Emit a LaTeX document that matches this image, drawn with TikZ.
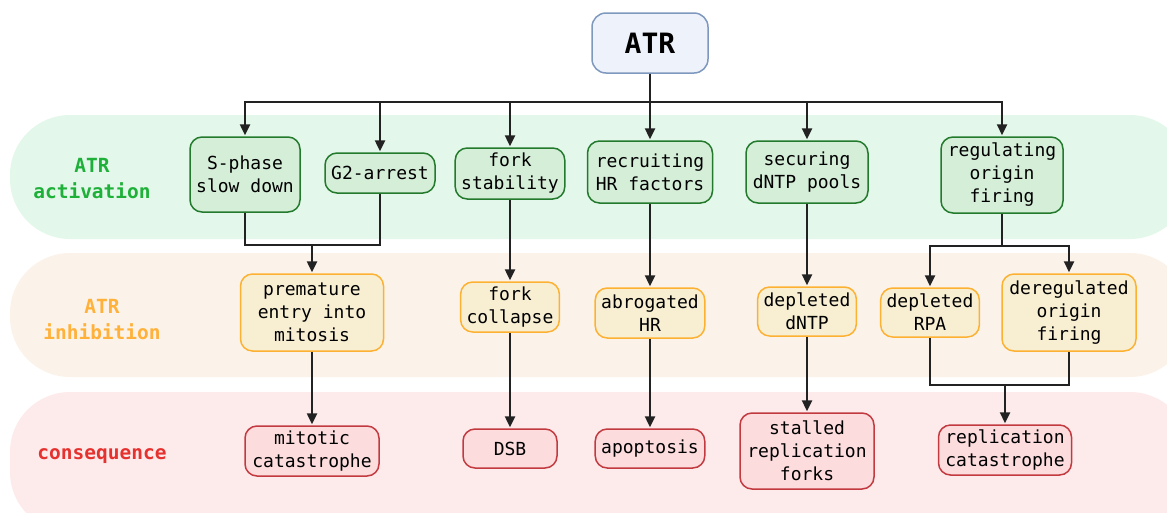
\documentclass[tikz,border=0pt]{standalone}
\usepackage{fontspec}
\setmonofont{DejaVu Sans Mono}
\usetikzlibrary{arrows.meta}
\definecolor{ink}{HTML}{222222}
\definecolor{actband}{HTML}{E3F8EA}
\definecolor{inhband}{HTML}{FBF3E9}
\definecolor{conband}{HTML}{FDEBEC}
\definecolor{actfill}{HTML}{D5EED8}
\definecolor{actline}{HTML}{237A2C}
\definecolor{inhfill}{HTML}{F8EFD3}
\definecolor{inhline}{HTML}{FDB133}
\definecolor{confill}{HTML}{FCDCDD}
\definecolor{conline}{HTML}{C23A40}
\definecolor{atrfill}{HTML}{EEF3FB}
\definecolor{atrline}{HTML}{7E98BE}
\definecolor{acttext}{HTML}{1FB03A}
\definecolor{inhtext}{HTML}{FFB13A}
\definecolor{context}{HTML}{E5322F}

\begin{document}
\begin{tikzpicture}[x=1pt,y=-1pt,
 box/.style={rounded corners=12pt,line width=1.5pt,align=center,inner xsep=6pt,inner ysep=3pt,
  font=\ttfamily\fontsize{18}{23}\selectfont,text=black},
 act/.style={box,draw=actline,fill=actfill},
 inh/.style={box,draw=inhline,fill=inhfill},
 con/.style={box,draw=conline,fill=confill},
 rowlabel/.style={align=center,font=\ttfamily\bfseries\fontsize{19.5}{26}\selectfont},
 link/.style={draw=ink,line width=2.4pt},
 flow/.style={link,-{Triangle[length=11pt,width=10pt]},shorten >=1pt}]
\useasboundingbox (0,0) rectangle (1167,512);
% background bands, one per row
\fill[actband,rounded corners=60pt] (10,115) rectangle (1190,239);
\fill[inhband,rounded corners=60pt] (10,253) rectangle (1190,377);
\fill[conband,rounded corners=60pt] (10,392) rectangle (1190,532);
\node[rowlabel,text=acttext] (lact) at (92,179) {ATR\\activation};
\node[rowlabel,text=inhtext] (linh) at (102,320) {ATR\\inhibition};
\node[rowlabel,text=context] (lcon) at (102,456) {consequence};

\node[box,draw=atrline,fill=atrfill,rounded corners=14pt,minimum width=116pt,minimum height=60pt,
 font=\ttfamily\bfseries\fontsize{28}{30}\selectfont] (atr) at (650,43) {ATR};

% ATR activation
\node[act,minimum width=110pt,minimum height=75pt] (sphase) at (245,174.5) {S-phase\\slow down};
\node[act,minimum width=110pt,minimum height=40pt] (g2) at (380,173) {G2-arrest};
\node[act,minimum width=109pt,minimum height=51pt] (stab) at (510,173.5) {fork\\stability};
\node[act,minimum width=125pt,minimum height=62pt] (recruit) at (650,172) {recruiting\\HR factors};
\node[act,minimum width=122pt,minimum height=62pt] (secure) at (807,172) {securing\\dNTP pools};
\node[act,minimum width=122pt,minimum height=76pt] (regul) at (1002,175) {regulating\\origin\\firing};

% ATR inhibition
\node[inh,minimum width=143pt,minimum height=77pt] (prem) at (312,312.5) {premature\\entry into\\mitosis};
\node[inh,minimum width=97pt,minimum height=50pt] (collapse) at (510,307) {fork\\collapse};
\node[inh,minimum width=109pt,minimum height=50pt] (abrog) at (650,313) {abrogated\\HR};
\node[inh,minimum width=97pt,minimum height=49pt] (dntp) at (807,311.5) {depleted\\dNTP};
\node[inh,minimum width=97pt,minimum height=49pt] (rpa) at (930,312.5) {depleted\\RPA};
\node[inh,minimum width=134pt,minimum height=77pt] (dereg) at (1069,312.5) {deregulated\\origin\\firing};

% consequence
\node[con,minimum width=134pt,minimum height=50pt] (mitcat) at (312,451) {mitotic\\catastrophe};
\node[con,minimum width=94pt,minimum height=39pt] (dsb) at (510,448.5) {DSB};
\node[con,minimum width=109pt,minimum height=39pt] (apop) at (650,448.5) {apoptosis};
\node[con,minimum width=134pt,minimum height=76pt] (stalled) at (807,451) {stalled\\replication\\forks};
\node[con,minimum width=133pt,minimum height=50pt] (repcat) at (1005,450) {replication\\catastrophe};

% ATR fans out over one bus line
\coordinate (bus) at (650,102);
\foreach \t in {sphase,g2,stab,recruit,secure,regul}
 \draw[flow] (atr.south) |- (bus) -| (\t.north);

\coordinate (jprem) at (312,245);
\draw[link] (sphase.south) |- (jprem);
\draw[link] (g2.south) |- (jprem);
\draw[flow] (jprem) -- (prem.north);

\coordinate (jreg) at (1002,246);
\draw[link] (regul.south) -- (jreg);
\draw[flow] (jreg) -| (rpa.north);
\draw[flow] (jreg) -| (dereg.north);

\foreach \a/\b in {stab/collapse,recruit/abrog,secure/dntp,prem/mitcat,collapse/dsb,abrog/apop,dntp/stalled}
 \draw[flow] (\a.south) -- (\b.north);

\coordinate (jrep) at (1005,385);
\draw[link] (rpa.south) |- (jrep);
\draw[link] (dereg.south) |- (jrep);
\draw[flow] (jrep) -- (repcat.north);
\end{tikzpicture}
\end{document}
